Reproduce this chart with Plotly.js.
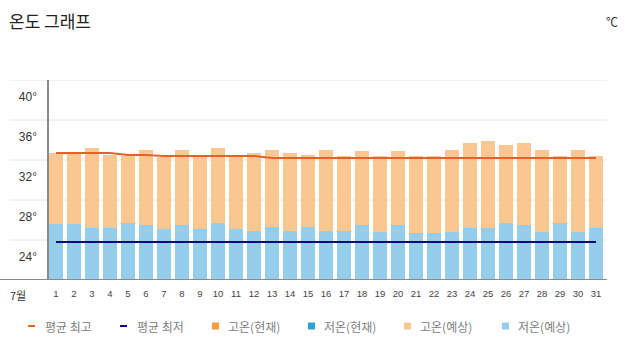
<!DOCTYPE html>
<html>
<head>
<meta charset="utf-8">
<script src="https://cdn.plot.ly/plotly-3.0.1.min.js"></script>
<style>html,body{margin:0;padding:0;background:#fff;}#chart{width:627px;height:355px;}</style>
</head>
<body>
<div id="chart"></div>
<script>
// ---- data ----
var days = [1,2,3,4,5,6,7,8,9,10,11,12,13,14,15,16,17,18,19,20,21,22,23,24,25,26,27,28,29,30,31];
var highForecast = [32.7,32.6,33.2,32.5,32.4,33.0,32.3,33.0,32.5,33.2,32.5,32.7,33.0,32.7,32.5,33.0,32.4,32.9,32.4,32.9,32.4,32.4,33.0,33.7,33.9,33.5,33.7,33.0,32.4,33.0,32.4];
var lowForecast  = [25.6,25.6,25.2,25.2,25.7,25.5,25.1,25.5,25.1,25.7,25.1,24.9,25.3,24.9,25.3,24.9,24.9,25.5,24.8,25.5,24.7,24.7,24.8,25.2,25.2,25.7,25.5,24.8,25.7,24.8,25.2];
var avgMax = [32.7,32.7,32.7,32.7,32.5,32.5,32.4,32.4,32.4,32.4,32.4,32.4,32.2,32.2,32.2,32.2,32.2,32.2,32.2,32.2,32.2,32.2,32.2,32.2,32.2,32.2,32.2,32.2,32.2,32.2,32.2];
var avgMin = [23.8,23.8,23.8,23.8,23.8,23.8,23.8,23.8,23.8,23.8,23.8,23.8,23.8,23.8,23.8,23.8,23.8,23.8,23.8,23.8,23.8,23.8,23.8,23.8,23.8,23.8,23.8,23.8,23.8,23.8,23.8];
var yTickVals = [24,28,32,36,40];
var yTickText = ['24°','28°','32°','36°','40°'];
var xTickText = ['1','2','3','4','5','6','7','8','9','10','11','12','13','14','15','16','17','18','19','20','21','22','23','24','25','26','27','28','29','30','31'];
var legendNames = ['평균 최고','평균 최저','고온(현재)','저온(현재)','고온(예상)','저온(예상)'];
var legendColors = ['#E2632A','#0A0A80','#F89B3C','#2E9ED8','#F9C892','#96CDEA'];
var legendKinds = ['line','line','box','box','box','box'];
var monthLabel = '7월';
var chartTitle = '온도 그래프';
var unitLabel = '℃';

// ---- layout helpers (pixel -> paper) ----
var W = 627, H = 355, L = 47, R = 605, T = 80, B = 280;
function px(x){ return (x - L) / (R - L); }
function py(y){ return (B - y) / (B - T); }

var traces = [
  {type:'bar', x:days, y:highForecast, name:'고온(예상)', marker:{color:'#F9C892'}, showlegend:false, hoverinfo:'x+y'},
  {type:'bar', x:days, y:lowForecast, name:'저온(예상)', marker:{color:'#96CDEA'}, showlegend:false, hoverinfo:'x+y'},
  {type:'scatter', mode:'lines', x:days, y:avgMax, name:'평균 최고', line:{color:'#E2632A', width:2}, showlegend:false},
  {type:'scatter', mode:'lines', x:days, y:avgMin, name:'평균 최저', line:{color:'#0A0A80', width:2}, showlegend:false}
];

var shapes = [];
yTickVals.forEach(function(v){
  shapes.push({type:'line', xref:'paper', yref:'y', x0:px(10), x1:px(607), y0:v, y1:v, line:{color:'#E6E6E6', width:1}, layer:'below'});
});
shapes.push({type:'line', xref:'paper', yref:'y', x0:px(0), x1:px(607), y0:20, y1:20, line:{color:'#8A8A8A', width:2}, layer:'above'});
shapes.push({type:'line', xref:'paper', yref:'paper', x0:px(48), x1:px(48), y0:0, y1:1, line:{color:'#8A8A8A', width:2}, layer:'above'});

var annotations = [
  {xref:'paper', yref:'paper', x:px(18), y:py(295), text:monthLabel, showarrow:false, xanchor:'center', yanchor:'middle', font:{family:'Noto Sans CJK KR', size:11, color:'#333'}},
  {xref:'paper', yref:'paper', x:px(612), y:py(21), text:unitLabel, showarrow:false, xanchor:'center', yanchor:'middle', font:{family:'Noto Sans CJK KR', size:12, color:'#333'}}
];

var legX = [28, 120, 212, 308, 404, 502];
var legY = 326;
legendNames.forEach(function(n, i){
  var x = legX[i];
  if (legendKinds[i] === 'line') {
    shapes.push({type:'line', xref:'paper', yref:'paper', x0:px(x), x1:px(x+7), y0:py(legY), y1:py(legY), line:{color:legendColors[i], width:2}});
  } else {
    shapes.push({type:'rect', xref:'paper', yref:'paper', x0:px(x), x1:px(x+7), y0:py(legY-3.5), y1:py(legY+3.5), line:{width:0}, fillcolor:legendColors[i]});
  }
  annotations.push({xref:'paper', yref:'paper', x:px(x+(legendKinds[i]==='line'?15:14)), y:py(legY), text:n, showarrow:false, xanchor:'left', yanchor:'middle', font:{family:'Noto Sans CJK KR', size:12, color:'#808080'}});
});

var layout = {
  width: W, height: H,
  margin: {l:L, r:W-R, t:T, b:H-B, pad:0},
  paper_bgcolor:'#fff', plot_bgcolor:'#fff',
  title: {text: chartTitle, x: 9/W, xanchor:'left', xref:'container', y: 1 - 22/H, yref:'container', yanchor:'middle', font:{family:'Noto Sans CJK KR', size:17, color:'#222'}},
  barmode:'overlay', bargap:0.22,
  showlegend:false,
  xaxis: {type:'linear', range:[0.5, 31.5], tickvals:days, ticktext:xTickText, showgrid:false, zeroline:false, showline:false, ticks:'', ticklabelstandoff:6, tickfont:{family:'Liberation Sans', size:9.5, color:'#444'}, fixedrange:true},
  yaxis: {range:[20, 40], tickvals:yTickVals, ticktext:yTickText, showgrid:false, zeroline:false, showline:false, ticks:'', ticklabelshift:17, ticklabelstandoff:9, tickfont:{family:'Liberation Sans', size:12, color:'#333'}, fixedrange:true},
  shapes: shapes,
  annotations: annotations
};

Plotly.newPlot('chart', traces, layout, {displayModeBar:false, staticPlot:true});
</script>
</body>
</html>
